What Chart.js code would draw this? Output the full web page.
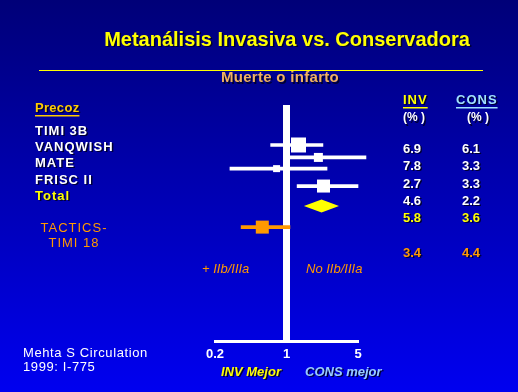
<!DOCTYPE html>
<html>
<head>
<meta charset="utf-8">
<script src="https://cdn.jsdelivr.net/npm/chart.js@4"></script>
<style>
  html, body { margin: 0; padding: 0; background: #0000b0; }
  canvas { display: block; }
</style>
</head>
<body>
<canvas id="forest" width="518" height="392"></canvas>
<script>
// data
const studies = ['TIMI 3B', 'VANQWISH', 'MATE', 'FRISC II', 'Total', 'TACTICS-TIMI 18'];
const oddsRatio = [1.31, 2.05, 0.80, 2.30, 2.20, 0.58];
const ciLow = [0.70, 1.00, 0.28, 1.27, 1.48, 0.36];
const ciHigh = [2.27, 5.98, 2.49, 5.00, 3.26, 1.08];
const invPct = ['6.9', '7.8', '2.7', '4.6', '5.8', '3.4'];
const consPct = ['6.1', '3.3', '3.3', '2.2', '3.6', '4.4'];
const xTicks = [0.2, 1, 5];

// layout (not data): row positions on the hidden y scale, marker sizes
const rowY = [0, 1, 1.9, 3.3, 4.9, 6.6];
const boxSide = [15, 9, 7, 13, 0, 13];
const rowColor = ['#ffffff', '#ffffff', '#ffffff', '#ffffff', '#ffff00', '#ff9900'];
const TOTAL = 4;

const FONT = "'Liberation Sans', Arial, sans-serif";

function txt(ctx, s, x, y, o) {
  ctx.save();
  ctx.font = (o.style || 'bold') + ' ' + (o.size || 13) + 'px ' + FONT;
  ctx.fillStyle = o.color || '#fff';
  ctx.textAlign = o.align || 'left';
  ctx.textBaseline = 'middle';
  ctx.letterSpacing = (o.ls || 0) + 'px';
  if (o.shadow !== false) {
    ctx.shadowColor = 'rgba(0,0,40,0.9)';
    ctx.shadowOffsetX = 1.5;
    ctx.shadowOffsetY = 1.5;
  }
  ctx.fillText(s, x, y);
  if (o.underline) {
    const w = ctx.measureText(s).width;
    ctx.shadowColor = 'transparent';
    ctx.fillRect(x, y + o.size / 2 + 0.5, w, 1.5);
  }
  ctx.restore();
}

const slide = {
  id: 'slide',
  beforeDraw(chart) {
    const ctx = chart.ctx;
    const g = ctx.createLinearGradient(0, 0, 0, chart.height);
    g.addColorStop(0, '#000078');
    g.addColorStop(1, '#0000f0');
    ctx.save();
    ctx.fillStyle = g;
    ctx.fillRect(0, 0, chart.width, chart.height);
    ctx.restore();
  },
  beforeDatasetsDraw(chart) {
    // reference line at odds ratio 1
    const ctx = chart.ctx, a = chart.chartArea;
    const x = chart.scales.x.getPixelForValue(1);
    ctx.save();
    ctx.fillStyle = '#fff';
    ctx.fillRect(x - 3.5, a.top, 7, a.bottom - a.top);
    ctx.restore();
  },
  afterDatasetsDraw(chart) {
    const ctx = chart.ctx, sx = chart.scales.x, sy = chart.scales.y;
    // pooled diamond
    const y = sy.getPixelForValue(rowY[TOTAL]);
    const l = sx.getPixelForValue(ciLow[TOTAL]);
    const m = sx.getPixelForValue(oddsRatio[TOTAL]);
    const r = sx.getPixelForValue(ciHigh[TOTAL]);
    ctx.save();
    ctx.fillStyle = '#ffff00';
    ctx.beginPath();
    ctx.moveTo(l, y);
    ctx.lineTo(m, y - 6.5);
    ctx.lineTo(r, y);
    ctx.lineTo(m, y + 6.5);
    ctx.closePath();
    ctx.fill();
    ctx.restore();
  },
  afterDraw(chart) {
    const ctx = chart.ctx;
    txt(ctx, 'Metanálisis Invasiva vs. Conservadora', 287, 40, { size: 20, color: '#ffff00', align: 'center' });
    ctx.save();
    ctx.fillStyle = '#ffff00';
    ctx.fillRect(39, 70, 444, 1);
    ctx.restore();
    txt(ctx, 'Muerte o infarto', 280, 78, { size: 15, color: '#f0b060', align: 'center', ls: 0.3 });

    txt(ctx, 'Precoz', 35, 108, { size: 13, color: '#ffcc00', underline: true, ls: 0.3 });
    const labelY = [131, 147, 163, 180, 196];
    for (let i = 0; i < TOTAL + 1; i++) {
      txt(ctx, studies[i], 35, labelY[i], { size: 13, color: rowColor[i], ls: 1 });
    }
    const parts = studies[5].split('-');
    txt(ctx, parts[0] + '-', 74, 228, { style: 'normal', size: 13, color: '#ff9900', align: 'center', ls: 1, shadow: false });
    txt(ctx, parts[1], 74, 243, { style: 'normal', size: 13, color: '#ff9900', align: 'center', ls: 1, shadow: false });

    txt(ctx, 'INV', 403, 100, { size: 13, color: '#ffff00', underline: true, ls: 1 });
    txt(ctx, 'CONS', 456, 100, { size: 13, color: '#a0e0ff', underline: true, ls: 1 });
    txt(ctx, '(% )', 403, 118, { size: 12 });
    txt(ctx, '(% )', 467, 118, { size: 12 });
    const numY = [149, 166, 184, 201, 218, 253];
    for (let i = 0; i < invPct.length; i++) {
      txt(ctx, invPct[i], 403, numY[i], { size: 13, color: rowColor[i] });
      txt(ctx, consPct[i], 462, numY[i], { size: 13, color: rowColor[i] });
    }

    txt(ctx, '+ IIb/IIIa', 202, 269, { style: 'italic', size: 13, color: '#ff9900', shadow: false });
    txt(ctx, 'No IIb/IIIa', 306, 269, { style: 'italic', size: 13, color: '#ff9900', shadow: false });

    txt(ctx, 'Mehta S Circulation', 23, 353, { style: 'normal', size: 13, ls: 0.6, shadow: false });
    txt(ctx, '1999: I-775', 23, 367, { style: 'normal', size: 13, ls: 0.6, shadow: false });
    txt(ctx, 'INV Mejor', 221, 372, { style: 'italic bold', size: 13, color: '#ffff00' });
    txt(ctx, 'CONS mejor', 305, 372, { style: 'italic bold', size: 13, color: '#99ccff' });
  }
};

// the pooled estimate is drawn as a diamond, so it has no whisker bar
const barIdx = studies.map((s, i) => i).filter(i => i !== TOTAL);
const barData = barIdx.map(i => ({ x: [ciLow[i], ciHigh[i]], y: rowY[i] }));
const boxData = studies.map((s, i) => ({ x: oddsRatio[i], y: rowY[i] }));

new Chart(document.getElementById('forest'), {
  data: {
    datasets: [
      {
        type: 'scatter',
        data: boxData,
        pointStyle: 'rect',
        pointRadius: boxSide.map(s => s / (2 * Math.SQRT1_2)),
        pointHoverRadius: boxSide.map(s => s / (2 * Math.SQRT1_2)),
        backgroundColor: rowColor,
        borderWidth: 0,
        order: 0
      },
      {
        type: 'bar',
        indexAxis: 'y',
        data: barData,
        backgroundColor: barIdx.map(i => rowColor[i]),
        barThickness: 3,
        clip: false,
        order: 1
      }
    ]
  },
  options: {
    responsive: false,
    animation: false,
    layout: { padding: { left: 215, right: 160, top: 105, bottom: 0 } },
    plugins: { legend: { display: false }, tooltip: { enabled: false } },
    scales: {
      x: {
        type: 'logarithmic',
        min: 0.2,
        max: 5,
        grid: { display: false },
        border: { display: true, color: '#ffffff', width: 3 },
        afterBuildTicks: axis => { axis.ticks = xTicks.map(v => ({ value: v })); },
        afterFit: axis => { axis.height = 51; },
        ticks: {
          color: '#ffffff',
          padding: -2,
          font: { family: FONT, size: 13, weight: 'bold' },
          callback: v => String(v)
        }
      },
      y: {
        type: 'linear',
        reverse: true,
        min: -2.16,
        max: 14.7,
        display: false
      }
    }
  },
  plugins: [slide]
});
</script>
</body>
</html>
